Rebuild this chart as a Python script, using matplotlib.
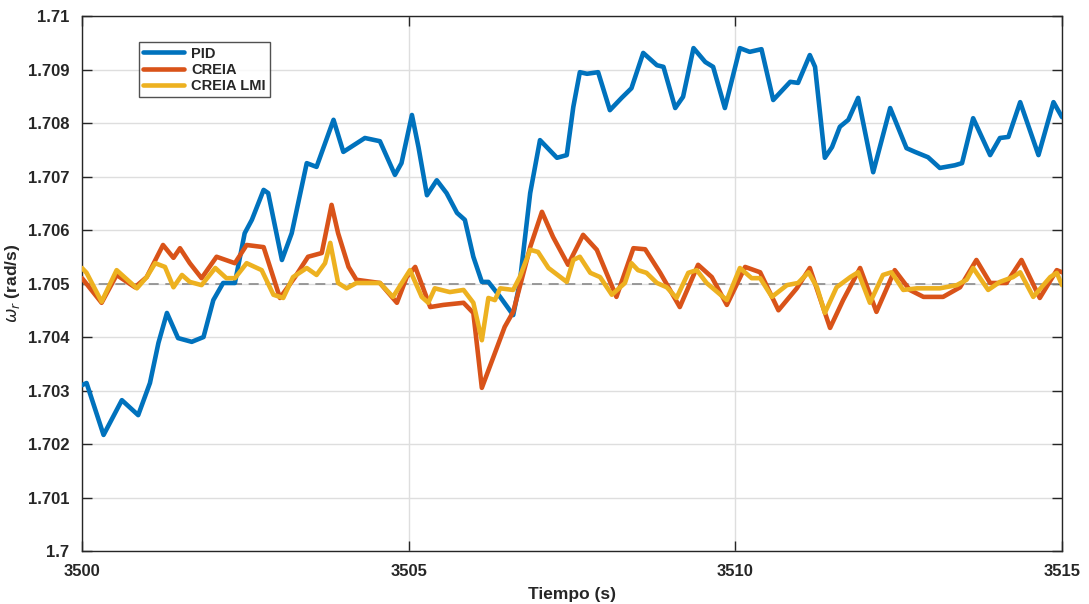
import matplotlib
matplotlib.use("Agg")
import matplotlib.pyplot as plt

plt.rcParams['font.family'] = ['Liberation Sans', 'DejaVu Sans']

# --- rotor speed traces (time in s, speed in rad/s) ---
t_pid = [3500.00, 3500.07, 3500.33, 3500.61, 3500.86, 3501.04, 3501.17, 3501.30, 3501.47,
         3501.68, 3501.86, 3502.01, 3502.16, 3502.34, 3502.49, 3502.60, 3502.78, 3502.85,
         3503.06, 3503.21, 3503.44, 3503.59, 3503.85, 3504.00, 3504.33, 3504.56, 3504.79,
         3504.89, 3505.05, 3505.15, 3505.28, 3505.43, 3505.58, 3505.74, 3505.86, 3505.99,
         3506.12, 3506.22, 3506.40, 3506.60, 3506.70, 3506.86, 3507.01, 3507.27, 3507.42,
         3507.52, 3507.62, 3507.73, 3507.90, 3508.08, 3508.26, 3508.41, 3508.59, 3508.80,
         3508.90, 3509.08, 3509.20, 3509.36, 3509.54, 3509.66, 3509.84, 3510.07, 3510.22,
         3510.40, 3510.58, 3510.84, 3510.96, 3511.14, 3511.22, 3511.37, 3511.48, 3511.60,
         3511.73, 3511.88, 3512.11, 3512.37, 3512.62, 3512.75, 3512.95, 3513.13, 3513.36,
         3513.47, 3513.64, 3513.90, 3514.05, 3514.18, 3514.36, 3514.64, 3514.87, 3515.00]
w_pid = [1.70310, 1.70314, 1.70217, 1.70282, 1.70254, 1.70314, 1.70389, 1.70445, 1.70398,
         1.70391, 1.70400, 1.70469, 1.70501, 1.70501, 1.70594, 1.70619, 1.70675, 1.70669,
         1.70544, 1.70594, 1.70725, 1.70718, 1.70806, 1.70746, 1.70772, 1.70766, 1.70703,
         1.70725, 1.70815, 1.70755, 1.70665, 1.70693, 1.70669, 1.70632, 1.70619, 1.70550,
         1.70503, 1.70503, 1.70475, 1.70441, 1.70501, 1.70669, 1.70768, 1.70735, 1.70740,
         1.70830, 1.70895, 1.70892, 1.70895, 1.70824, 1.70847, 1.70865, 1.70931, 1.70908,
         1.70905, 1.70828, 1.70849, 1.70940, 1.70914, 1.70905, 1.70828, 1.70940, 1.70933,
         1.70938, 1.70843, 1.70877, 1.70875, 1.70927, 1.70905, 1.70735, 1.70755, 1.70793,
         1.70806, 1.70847, 1.70708, 1.70828, 1.70753, 1.70746, 1.70736, 1.70716, 1.70721,
         1.70725, 1.70809, 1.70740, 1.70772, 1.70774, 1.70839, 1.70740, 1.70839, 1.70811]

t_creia = [3500.00, 3500.30, 3500.53, 3500.81, 3500.99, 3501.24, 3501.40, 3501.50, 3501.65,
           3501.83, 3502.06, 3502.34, 3502.52, 3502.78, 3503.03, 3503.26, 3503.46, 3503.67,
           3503.82, 3503.92, 3504.08, 3504.20, 3504.56, 3504.82, 3504.97, 3505.10, 3505.33,
           3505.53, 3505.84, 3505.99, 3506.12, 3506.24, 3506.47, 3506.60, 3506.86, 3507.04,
           3507.21, 3507.44, 3507.67, 3507.88, 3508.18, 3508.44, 3508.62, 3508.85, 3509.15,
           3509.43, 3509.64, 3509.87, 3510.15, 3510.38, 3510.66, 3510.94, 3511.14, 3511.45,
           3511.65, 3511.91, 3512.16, 3512.44, 3512.67, 3512.88, 3513.18, 3513.44, 3513.69,
           3513.90, 3514.15, 3514.38, 3514.66, 3514.92, 3515.00]
w_creia = [1.70510, 1.70464, 1.70516, 1.70493, 1.70512, 1.70572, 1.70548, 1.70566, 1.70538,
           1.70510, 1.70550, 1.70538, 1.70572, 1.70568, 1.70473, 1.70512, 1.70550, 1.70557,
           1.70647, 1.70594, 1.70531, 1.70507, 1.70501, 1.70464, 1.70512, 1.70531, 1.70456,
           1.70460, 1.70464, 1.70445, 1.70305, 1.70344, 1.70419, 1.70447, 1.70568, 1.70634,
           1.70587, 1.70535, 1.70591, 1.70563, 1.70475, 1.70566, 1.70564, 1.70520, 1.70456,
           1.70535, 1.70512, 1.70460, 1.70531, 1.70521, 1.70450, 1.70491, 1.70529, 1.70417,
           1.70469, 1.70529, 1.70447, 1.70525, 1.70488, 1.70475, 1.70475, 1.70493, 1.70544,
           1.70501, 1.70501, 1.70544, 1.70473, 1.70525, 1.70521]

t_lmi = [3500.00, 3500.07, 3500.30, 3500.53, 3500.84, 3500.99, 3501.12, 3501.27, 3501.40,
         3501.53, 3501.65, 3501.83, 3502.04, 3502.21, 3502.34, 3502.52, 3502.75, 3502.93,
         3503.08, 3503.23, 3503.44, 3503.59, 3503.72, 3503.80, 3503.92, 3504.05, 3504.20,
         3504.56, 3504.76, 3505.02, 3505.20, 3505.30, 3505.40, 3505.63, 3505.84, 3505.99,
         3506.12, 3506.22, 3506.32, 3506.40, 3506.60, 3506.70, 3506.86, 3506.98, 3507.14,
         3507.42, 3507.52, 3507.62, 3507.78, 3507.93, 3508.11, 3508.31, 3508.41, 3508.51,
         3508.64, 3508.80, 3508.95, 3509.10, 3509.28, 3509.41, 3509.56, 3509.87, 3510.07,
         3510.25, 3510.38, 3510.56, 3510.79, 3510.96, 3511.12, 3511.25, 3511.37, 3511.55,
         3511.76, 3511.88, 3512.06, 3512.26, 3512.39, 3512.57, 3512.78, 3513.13, 3513.39,
         3513.54, 3513.64, 3513.87, 3514.05, 3514.25, 3514.36, 3514.56, 3514.82, 3514.92,
         3515.00]
w_lmi = [1.70529, 1.70520, 1.70466, 1.70525, 1.70491, 1.70512, 1.70538, 1.70531, 1.70493,
         1.70516, 1.70503, 1.70497, 1.70529, 1.70510, 1.70510, 1.70538, 1.70525, 1.70479,
         1.70473, 1.70512, 1.70529, 1.70516, 1.70538, 1.70576, 1.70501, 1.70491, 1.70501,
         1.70501, 1.70475, 1.70525, 1.70475, 1.70464, 1.70491, 1.70484, 1.70488, 1.70464,
         1.70394, 1.70473, 1.70469, 1.70491, 1.70488, 1.70512, 1.70563, 1.70559, 1.70529,
         1.70503, 1.70544, 1.70550, 1.70520, 1.70512, 1.70479, 1.70501, 1.70538, 1.70525,
         1.70520, 1.70501, 1.70493, 1.70473, 1.70520, 1.70525, 1.70501, 1.70469, 1.70529,
         1.70510, 1.70510, 1.70475, 1.70497, 1.70501, 1.70521, 1.70493, 1.70445, 1.70493,
         1.70512, 1.70521, 1.70464, 1.70516, 1.70521, 1.70488, 1.70491, 1.70491, 1.70497,
         1.70507, 1.70529, 1.70488, 1.70503, 1.70512, 1.70521, 1.70475, 1.70512, 1.70520,
         1.70497]

w_ref = 1.705
series_names = ['PID', 'CREIA', 'CREIA LMI']
x_ticks = [3500, 3505, 3510, 3515]
y_ticks = [1.700, 1.701, 1.702, 1.703, 1.704, 1.705, 1.706, 1.707, 1.708, 1.709, 1.710]
y_tick_labels = ['1.7', '1.701', '1.702', '1.703', '1.704', '1.705',
                 '1.706', '1.707', '1.708', '1.709', '1.71']

colors = ['#0072BD', '#D95319', '#EDB120']
axis_col = '#262626'

fig = plt.figure(figsize=(10.89, 6.04), dpi=100)
ax = fig.add_axes([0.0753, 0.0877, 0.8999, 0.8858])

ax.axhline(w_ref, color='#8a8a8a', lw=1.2, ls=(0, (6, 4)), zorder=2)
for (t, w), name, c in zip([(t_pid, w_pid), (t_creia, w_creia), (t_lmi, w_lmi)],
                           series_names, colors):
    ax.plot(t, w, color=c, lw=3.3, label=name, solid_joinstyle='round',
            solid_capstyle='round', zorder=3)

ax.set_xlim(3500, 3515)
ax.set_ylim(1.700, 1.710)
ax.set_xticks(x_ticks)
ax.set_xticklabels([str(v) for v in x_ticks])
ax.set_yticks(y_ticks)
ax.set_yticklabels(y_tick_labels)

ax.grid(True, color='#dedede', lw=1.0, zorder=0)
ax.set_axisbelow(True)

for sp in ax.spines.values():
    sp.set_color(axis_col)
    sp.set_linewidth(1.0)
ax.tick_params(direction='in', length=7, width=1.0, color=axis_col,
               top=True, right=True, labelcolor=axis_col, labelsize=12, pad=9)
for lab in ax.get_xticklabels() + ax.get_yticklabels():
    lab.set_fontweight('bold')

ax.set_xlabel('Tiempo (s)', fontsize=12.5, fontweight='bold', color=axis_col, labelpad=6)
ax.set_ylabel(r'$\omega_r$ (rad/s)', fontsize=12.5, fontweight='bold', color=axis_col,
              labelpad=4)

leg = ax.legend(loc='upper left', bbox_to_anchor=(0.058, 0.951), borderaxespad=0,
                prop={'weight': 'bold', 'size': 10.5}, frameon=True, fancybox=False,
                handlelength=2.8, handletextpad=0.5, borderpad=0.3, labelspacing=0.15)
leg.get_frame().set_edgecolor(axis_col)
leg.get_frame().set_linewidth(1.0)
for txt in leg.get_texts():
    txt.set_color(axis_col)

fig.savefig('out.png', dpi=100)
